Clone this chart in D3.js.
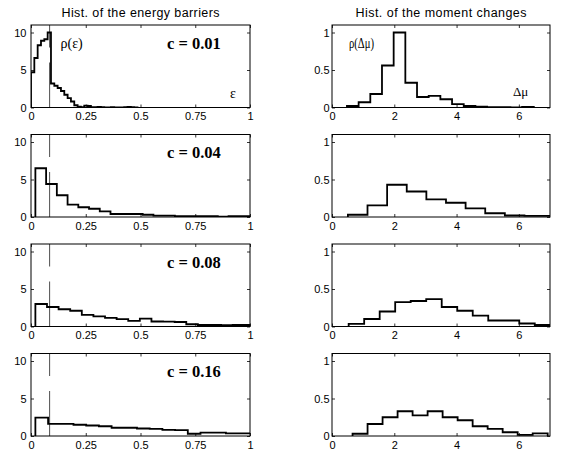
<!DOCTYPE html>
<html><head><meta charset="utf-8">
<script src="https://cdn.jsdelivr.net/npm/d3@7"></script>
<style>body{margin:0;background:#fff} svg{display:block}</style>
</head><body><svg id="c" width="562" height="453"></svg>
<script>
// ---- data ----
const titles = ["Hist. of the energy barriers", "Hist. of the moment changes"];
const cLabels = ["c = 0.01", "c = 0.04", "c = 0.08", "c = 0.16"];

const energyStart = [0, 0.02, 0.02, 0.02];
const energyWidth = [0.0152, 0.049, 0.053, 0.058];
const energy1 = [4.7, 6.6, 8.3, 8.9, 9.1, 10.0, 3.2, 2.9, 2.6, 2.2, 1.7, 1.25, 0.8, 0.3, 0.1, 0.05, 0.25, 0.2, 0.05, 0.05, 0.08, 0.05, 0.03, 0.02, 0.05, 0.03, 0.0, 0.02, 0.05, 0.08, 0.05, 0.02];
const energy2 = [6.5, 4.4, 2.9, 1.65, 1.3, 1.1, 0.75, 0.4, 0.4, 0.4, 0.3, 0.18, 0.18, 0.1, 0.1, 0.1, 0.1, 0.05, 0.12, 0.12];
const energy3 = [3.0, 2.6, 2.3, 2.1, 1.55, 1.35, 1.15, 0.98, 0.75, 1.05, 0.67, 0.65, 0.6, 0.3, 0.2, 0.2, 0.18, 0.2, 0.2];
const energy4 = [2.45, 1.62, 1.62, 1.5, 1.4, 1.3, 1.1, 1.1, 1.0, 0.95, 0.83, 0.78, 0.3, 0.44, 0.44, 0.35, 0.35];

const momentStart = [0.48, 0.51, 0.535, 0.66];
const momentWidth = [0.375, 0.63, 0.498, 0.482];
const moment1 = [0.02, 0.07, 0.18, 0.56, 1.0, 0.33, 0.14, 0.155, 0.11, 0.045, 0.02, 0.01, 0.005, 0.005, 0.003, 0.008];
const moment2 = [0.03, 0.155, 0.43, 0.34, 0.235, 0.19, 0.115, 0.05, 0.02, 0.015, 0.015];
const moment3 = [0.035, 0.10, 0.20, 0.325, 0.34, 0.365, 0.26, 0.21, 0.145, 0.08, 0.08, 0.04, 0.02];
const moment4 = [0.03, 0.16, 0.25, 0.33, 0.275, 0.33, 0.25, 0.21, 0.13, 0.095, 0.05, 0.015, 0.035];

const energyXTicks = [0, 0.25, 0.5, 0.75, 1];
const energyXTickLabels = ["0", "0.25", "0.5", "0.75", "1"];
const energyYTicks = [0, 5, 10];
const energyYTickLabels = ["0", "5", "10"];
const momentXTicks = [0, 2, 4, 6];
const momentXTickLabels = ["0", "2", "4", "6"];
const momentYTicks = [0, 0.5, 1];
const momentYTickLabels = ["0", "0.5", "1"];

const markerEnergy = 0.085;            // vertical reference line position
const markerSegments = [[11, 8], [6, 0]];

// ---- layout ----
const SANS = "'Liberation Sans', Arial, Helvetica, sans-serif";
const SERIF = "'Liberation Serif', 'Times New Roman', Times, serif";
const leftRange = [31, 250];
const rightRange = [332, 550];
const rowTop = i => 25 + i * 109.5;
const rowH = 82.5;

const svg = d3.select("#c");
const defs = svg.append("defs");

const energySets = [energy1, energy2, energy3, energy4];
const momentSets = [moment1, moment2, moment3, moment4];

function histPoints(start, w, counts) {
  const pts = [[start, 0]];
  counts.forEach((v, i) => pts.push([start + i * w, v]));
  pts.push([start + counts.length * w, counts[counts.length - 1]]);
  pts.push([start + counts.length * w, 0]);
  return pts;
}

function panel(id, xr, top, xDomain, yDomain, xTicks, xLabels, yTicks, yLabels, yPad, start, w, counts) {
  const x = d3.scaleLinear().domain(xDomain).range(xr);
  const y = d3.scaleLinear().domain(yDomain).range([top + rowH, top]);
  const g = svg.append("g");

  defs.append("clipPath").attr("id", id).append("rect")
    .attr("x", xr[0]).attr("y", top).attr("width", xr[1] - xr[0]).attr("height", rowH);

  const line = d3.line().x(d => x(d[0])).y(d => y(d[1])).curve(d3.curveStepAfter);
  g.append("path").datum(histPoints(start, w, counts))
    .attr("d", line).attr("fill", "none").attr("stroke", "#000")
    .attr("stroke-width", 1.8).attr("stroke-linejoin", "miter")
    .attr("clip-path", `url(#${id})`);

  const fmtX = (d, i) => xLabels[i];
  const fmtY = (d, i) => yLabels[i];
  const ax = [
    g.append("g").attr("transform", `translate(0,${top + rowH})`)
      .call(d3.axisBottom(x).tickValues(xTicks).tickFormat(fmtX).tickSizeInner(-3).tickSizeOuter(0).tickPadding(5)),
    g.append("g").attr("transform", `translate(0,${top})`)
      .call(d3.axisTop(x).tickValues(xTicks).tickFormat("").tickSizeInner(-3).tickSizeOuter(0)),
    g.append("g").attr("transform", `translate(${xr[0]},0)`)
      .call(d3.axisLeft(y).tickValues(yTicks).tickFormat(fmtY).tickSizeInner(-3).tickSizeOuter(0).tickPadding(yPad)),
    g.append("g").attr("transform", `translate(${xr[1]},0)`)
      .call(d3.axisRight(y).tickValues(yTicks).tickFormat("").tickSizeInner(-3).tickSizeOuter(0))
  ];
  ax.forEach(a => {
    a.select(".domain").remove();
    a.selectAll("line").attr("stroke", "#000").attr("stroke-width", 0.8);
    a.selectAll("text").attr("font-family", SANS).attr("font-size", 11).attr("fill", "#000");
  });

  g.append("rect").attr("x", xr[0]).attr("y", top)
    .attr("width", xr[1] - xr[0]).attr("height", rowH)
    .attr("fill", "none").attr("stroke", "#000").attr("stroke-width", 1);
  return { g, x, y };
}

for (let i = 0; i < 4; i++) {
  const top = rowTop(i);
  const L = panel("cl" + i, leftRange, top, [0, 1], [0, 11], energyXTicks, energyXTickLabels,
    energyYTicks, energyYTickLabels, 4.5, energyStart[i], energyWidth[i], energySets[i]);
  markerSegments.forEach(s => {
    L.g.append("line").attr("x1", L.x(markerEnergy)).attr("x2", L.x(markerEnergy))
      .attr("y1", L.y(s[0])).attr("y2", L.y(s[1]))
      .attr("stroke", "#000").attr("stroke-width", 0.7);
  });
  L.g.append("text").attr("x", 167).attr("y", top + 23.5)
    .attr("font-family", SERIF).attr("font-weight", "bold").attr("font-size", 16.5)
    .text(cLabels[i]);

  const R = panel("cr" + i, rightRange, top, [0, 7], [0, 1.1], momentXTicks, momentXTickLabels,
    momentYTicks, momentYTickLabels, 2.5, momentStart[i], momentWidth[i], momentSets[i]);

  if (i === 0) {
    L.g.append("text").attr("x", 60.5).attr("y", 47.5).attr("font-family", SERIF).attr("font-size", 14).text("ρ(ε)");
    L.g.append("text").attr("x", 230).attr("y", 98).attr("font-family", SERIF).attr("font-size", 14).text("ε");
    R.g.append("text").attr("x", 349).attr("y", 47.5).attr("font-family", SERIF).attr("font-size", 14)
      .attr("textLength", 25).attr("lengthAdjust", "spacingAndGlyphs").text("ρ(Δμ)");
    R.g.append("text").attr("x", 513).attr("y", 96).attr("font-family", SERIF).attr("font-size", 13).text("Δμ");
  }
}

const titleLen = [158, 171];
[leftRange, rightRange].forEach((r, k) => {
  svg.append("text").attr("x", (r[0] + r[1]) / 2 - titleLen[k] / 2).attr("y", 17)
    .attr("font-family", SANS).attr("font-size", 12.5)
    .attr("textLength", titleLen[k]).attr("lengthAdjust", "spacing").text(titles[k]);
});
</script>
</body></html>
